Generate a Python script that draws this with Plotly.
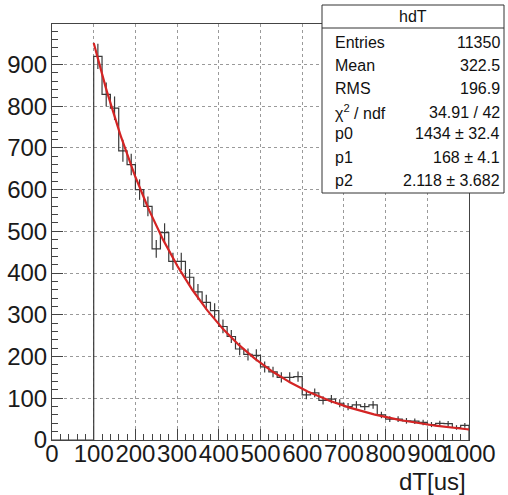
import numpy as np
import plotly.graph_objects as go

# ---- data ----
bin_low = 100
bin_width = 20
counts = [919, 828, 795, 693, 660, 600, 560, 458, 497, 428,
          428, 390, 355, 330, 310, 272, 248, 218, 205, 203,
          175, 163, 150, 150, 152, 108, 113, 95, 98, 88,
          80, 84, 80, 84, 60, 50, 50, 46, 45, 42,
          37, 40, 39, 30, 35]
# fit parameters (from stats box): f(x) = p0 * 2^(-x/p1) + p2
p0, p1, p2 = 1434.0, 168.0, 2.118
stat_labels = ["Entries", "Mean", "RMS", "χ<sup>2</sup> / ndf", "p0", "p1", "p2"]
stat_values = ["11350", "322.5", "196.9", "34.91 / 42", "1434 ± 32.4", "168 ± 4.1", "2.118 ± 3.682"]
hist_name = "hdT"
x_title = "dT[us]"

counts = np.array(counts, dtype=float)
n = len(counts)
edges = bin_low + bin_width * np.arange(n + 1)
centers = (edges[:-1] + edges[1:]) / 2
errors = np.sqrt(counts)

W, H = 508, 495
L, R, T, B = 52, 39, 24, 55
pw, ph = W - L - R, H - T - B

def px_x(p):
    return (p - L) / pw

def px_y(p):
    return (H - B - p) / ph

FONT = "Liberation Sans, Arial, Helvetica, sans-serif"
fig = go.Figure()

# histogram outline (step)
sx = [0.0] + list(edges[:-1]) + [edges[-1], edges[-1]]
sy = [0.0] + list(counts) + [counts[-1], 0.0]
fig.add_trace(go.Scatter(x=sx, y=sy, mode="lines", line=dict(color="#3a3a3a", width=1.2, shape="hv"),
                         hoverinfo="skip", showlegend=False))
# error bars
fig.add_trace(go.Scatter(x=centers, y=counts, mode="markers", marker=dict(size=1, color="#3a3a3a"),
                         error_y=dict(type="data", array=errors, width=0, color="#3a3a3a", thickness=1.2),
                         showlegend=False))
# fit curve
fx = np.linspace(edges[0], edges[-1], 400)
fy = p0 * np.power(2.0, -fx / p1) + p2
fig.add_trace(go.Scatter(x=fx, y=fy, mode="lines", line=dict(color="#d42424", width=2.2),
                         showlegend=False))

ymax = 1.05 * (counts.max() + errors.max())

axis_common = dict(
    showline=True, linecolor="#444", linewidth=1, mirror=True,
    ticks="inside", ticklen=11, tickcolor="#444", tickwidth=1,
    showgrid=True, gridcolor="#9a9a9a", griddash="dot", gridwidth=1,
    zeroline=False, tickangle=0, automargin=False,
    tickfont=dict(family=FONT, size=24, color="#1a1a1a"),
    minor=dict(ticks="inside", ticklen=6, tickcolor="#444", dtick=20, showgrid=False),
)
fig.update_xaxes(range=[0, 1000], dtick=100, tick0=0, ticklabelstandoff=-8, **axis_common)
fig.update_yaxes(range=[0, ymax], dtick=100, tick0=0, ticklabelstandoff=-1, **axis_common)

# stats box
bx0, bx1 = px_x(322), px_x(504)
by0, by1 = px_y(193), px_y(5)
fig.add_shape(type="rect", xref="paper", yref="paper", x0=bx0, x1=bx1, y0=by0, y1=by1,
              fillcolor="white", line=dict(color="#333", width=1), layer="above")
fig.add_shape(type="line", xref="paper", yref="paper", x0=bx0, x1=bx1, y0=px_y(28), y1=px_y(28),
              line=dict(color="#333", width=1), layer="above")
fig.add_annotation(x=(bx0 + bx1) / 2, y=px_y(17), xref="paper", yref="paper", text=hist_name,
                   showarrow=False, xanchor="center", yanchor="middle",
                   font=dict(family=FONT, size=16, color="#111"))
row_y = [43, 66, 88, 112, 134, 157, 180]
for lab, val, ry in zip(stat_labels, stat_values, row_y):
    fig.add_annotation(x=px_x(333), y=px_y(ry), xref="paper", yref="paper", text=lab,
                       showarrow=False, xanchor="left", yanchor="middle",
                       font=dict(family=FONT, size=16, color="#111"))
    fig.add_annotation(x=px_x(502), y=px_y(ry), xref="paper", yref="paper", text=val,
                       showarrow=False, xanchor="right", yanchor="middle",
                       font=dict(family=FONT, size=16, color="#111"))

# x-axis title, right aligned
fig.add_annotation(x=px_x(468), y=px_y(481), xref="paper", yref="paper", text=x_title,
                   showarrow=False, xanchor="right", yanchor="middle",
                   font=dict(family=FONT, size=24, color="#1a1a1a"))

fig.update_layout(width=W, height=H, margin=dict(l=L, r=R, t=T, b=B),
                  paper_bgcolor="white", plot_bgcolor="white", showlegend=False)
fig.write_html("out.html")
